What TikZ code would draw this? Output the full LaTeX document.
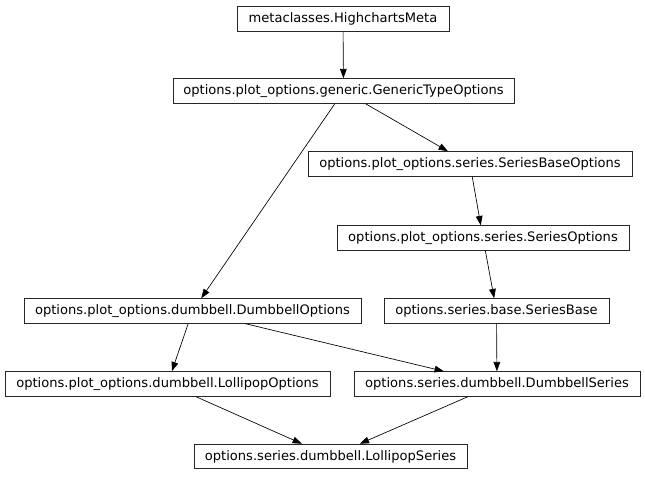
\documentclass[tikz,border=0pt]{standalone}
\usepackage{fontspec}
\setmainfont{DejaVu Sans}
\usetikzlibrary{arrows.meta}
\begin{document}
\begin{tikzpicture}[x=0.75pt,y=-0.75pt,
  box/.style={draw=black!85, line width=0.6pt, inner sep=0pt, minimum height=18.5pt,
    minimum width={#1*0.75pt}, font=\fontsize{9.8}{11}\selectfont, fill=white},
  edge/.style={draw=black, line width=0.5pt, -{Triangle[length=7pt,width=5pt]}}]
\useasboundingbox (0,0) rectangle (645,476);
\node[box=212] (meta) at (343,19) {metaclasses.HighchartsMeta};
\node[box=341] (gen) at (343.5,91) {options.plot\_options.generic.GenericTypeOptions};
\node[box=324] (sbo) at (470,164) {options.plot\_options.series.SeriesBaseOptions};
\node[box=292] (so) at (483,238) {options.plot\_options.series.SeriesOptions};
\node[box=337] (dbo) at (192.5,311) {options.plot\_options.dumbbell.DumbbellOptions};
\node[box=225] (sb) at (496.5,311) {options.series.base.SeriesBase};
\node[box=325] (lpo) at (167.5,384) {options.plot\_options.dumbbell.LollipopOptions};
\node[box=286] (dbs) at (497,384) {options.series.dumbbell.DumbbellSeries};
\node[box=273] (lps) at (330.5,456.5) {options.series.dumbbell.LollipopSeries};
\draw[edge] (meta) -- (gen);
\draw[edge] (gen) -- (sbo);
\draw[edge] (gen) -- (dbo);
\draw[edge] (sbo) -- (so);
\draw[edge] (so) -- (sb);
\draw[edge] (dbo) -- (lpo);
\draw[edge] (dbo) -- (dbs);
\draw[edge] (sb) -- (dbs);
\draw[edge] (lpo) -- (lps);
\draw[edge] (dbs) -- (lps);
\end{tikzpicture}
\end{document}
